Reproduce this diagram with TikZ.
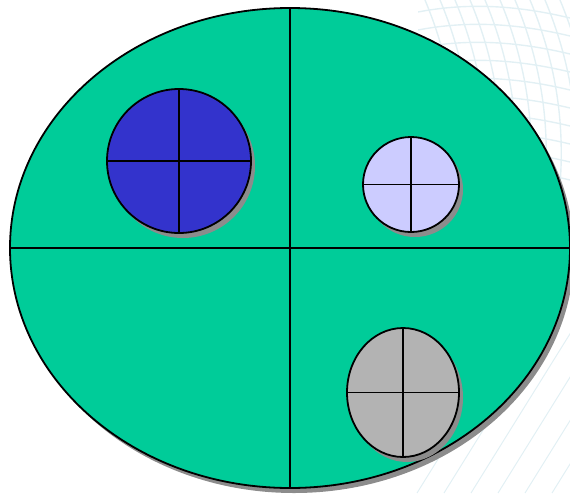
\documentclass[tikz,border=0pt]{standalone}
\usepackage{xcolor}
\usetikzlibrary{positioning, shapes.geometric, shadows}
\definecolor{plate}{HTML}{00CC99}
\definecolor{darkdisk}{HTML}{3333CC}
\definecolor{lightdisk}{HTML}{CCCCFF}
\definecolor{greydisk}{HTML}{B3B3B3}
\definecolor{shade}{HTML}{8C8C8C}
\definecolor{faint}{HTML}{E2F0F4}

\begin{document}
\begin{tikzpicture}[x=1pt, y=-1pt,
  disk/.style={ellipse, draw, line width=1.8pt, inner sep=0pt,
    drop shadow={shadow xshift=4pt, shadow yshift=-5pt, fill=shade, opacity=1}},
  cross/.style={line width=1.8pt},
  faintline/.style={draw=faint, line width=1.4pt}
]
\useasboundingbox (0,0) rectangle (570,493);

\begin{scope}
  \clip (418,0) rectangle (570,185);
  \foreach \x in {425,440,...,560}
    \draw[faintline] (\x,0) .. controls (\x+25,60) and (\x+35,120) .. (\x+30,185);
  \foreach \y in {12,30,...,180}
    \draw[faintline] (418,\y) .. controls (470,\y-10) and (520,\y-6) .. (570,\y+6);
\end{scope}
\begin{scope}
  \clip (380,300) rectangle (570,493);
  \foreach \x in {417,444,...,580}
    \draw[faintline, line width=1pt] (\x,493) -- (\x+120,300);
\end{scope}

\node[disk, fill=plate, minimum width=560pt, minimum height=480pt] (plate) at (290,248) {};
\draw[cross] (plate.north) -- (plate.south);
\draw[cross] (plate.west) -- (plate.east);

\node[disk, fill=darkdisk, minimum width=144pt, minimum height=144pt] (blue) at (179,161) {};
\node[disk, fill=lightdisk, minimum width=96pt, minimum height=95pt] (pale) at (411,184.5) {};
\node[disk, fill=greydisk, minimum width=112pt, minimum height=129pt] (grey) at (403,392.5) {};

\foreach \d in {blue, pale, grey} {
  \draw[cross] (\d.north) -- (\d.south);
  \draw[cross] (\d.west) -- (\d.east);
}
\end{tikzpicture}
\end{document}
